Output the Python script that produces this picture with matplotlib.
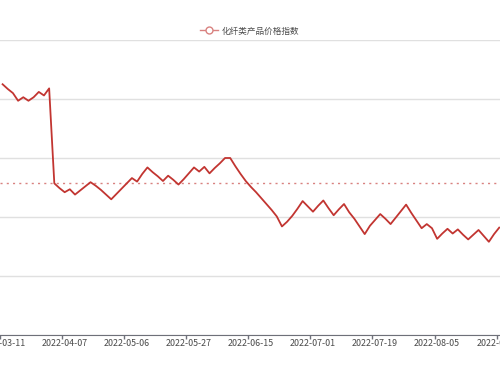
import numpy as np
import matplotlib
matplotlib.use("Agg")
import matplotlib.pyplot as plt
from matplotlib.lines import Line2D

plt.rcParams['font.family'] = ['Noto Sans CJK SC', 'DejaVu Sans']

series_name = "化纤类产品价格指数"

# index values (one point per category)
values = [
    112.5, 111.7, 111.0, 109.7, 110.3, 109.7, 110.3, 111.2, 110.6, 111.8,
    95.7, 94.9, 94.2, 94.7, 93.8, 94.5, 95.2, 95.9, 95.3, 94.6,
    93.8, 93.0, 93.9, 94.8, 95.7, 96.6, 96.0, 97.3, 98.4, 97.6,
    96.9, 96.1, 97.0, 96.3, 95.5, 96.4, 97.4, 98.4, 97.7, 98.5,
    97.4, 98.3, 99.1, 100.0, 100.0, 98.6, 97.3, 96.1, 95.1, 94.2,
    93.2, 92.2, 91.2, 90.1, 88.4, 89.2, 90.2, 91.4, 92.7, 91.8,
    90.9, 91.9, 92.8, 91.5, 90.3, 91.3, 92.2, 90.8, 89.7, 88.4,
    87.1, 88.5, 89.5, 90.5, 89.7, 88.8, 89.9, 91.0, 92.1, 90.7,
    89.4, 88.1, 88.8, 88.1, 86.3, 87.2, 88.0, 87.2, 87.9, 87.0,
    86.2, 87.0, 87.8, 86.8, 85.8, 87.1, 88.2,
]

# labelled categories (every 12th point)
tick_labels = ["2022-03-11", "2022-04-07", "2022-05-06", "2022-05-27",
               "2022-06-15", "2022-07-01", "2022-07-19", "2022-08-05",
               "2022-08-23"]
label_step = 12

# average line value (markLine)
avg_value = 95.7

x = np.arange(len(values))

fig = plt.figure(figsize=(5, 3.75), dpi=100)
ax = fig.add_axes([0, 40 / 375, 1, 295 / 375])

ax.plot(x, values, color="#C23531", lw=1.3, zorder=3)
ax.axhline(avg_value, color="#D98280", lw=1.0, ls=(0, (1.5, 3)), zorder=2)

ax.set_ylim(70, 120)
ax.set_yticks(np.arange(70, 121, 10))
ax.yaxis.grid(True, color="#E0E0E0", lw=1)
ax.set_axisbelow(True)
ax.tick_params(axis="y", length=0, labelleft=False)

ax.set_xlim(-0.241, 96.15)
ax.set_xticks(x[::label_step][:len(tick_labels)])
ax.set_xticklabels(tick_labels)
ax.set_xticks(x[::label_step] - 0.5, minor=True)
ax.tick_params(axis="x", which="major", length=0, pad=3, labelsize=6.4,
               labelcolor="#4A4A4A")
ax.tick_params(axis="x", which="minor", length=3, color="#6E7079", width=1)

for s in ["top", "left", "right"]:
    ax.spines[s].set_visible(False)
ax.spines["bottom"].set_color("#6E7079")

handle = Line2D([], [], color="#D98280", lw=1.0, marker="o", markersize=5,
                markerfacecolor="white", markeredgecolor="#D98280")
fig.legend([handle], [series_name], loc="center",
           bbox_to_anchor=(0.5, 1 - 31 / 375), frameon=False, fontsize=6.2,
           handlelength=2.0, handletextpad=0.5, labelcolor="#4A4A4A")

fig.savefig("out.png", dpi=100)
